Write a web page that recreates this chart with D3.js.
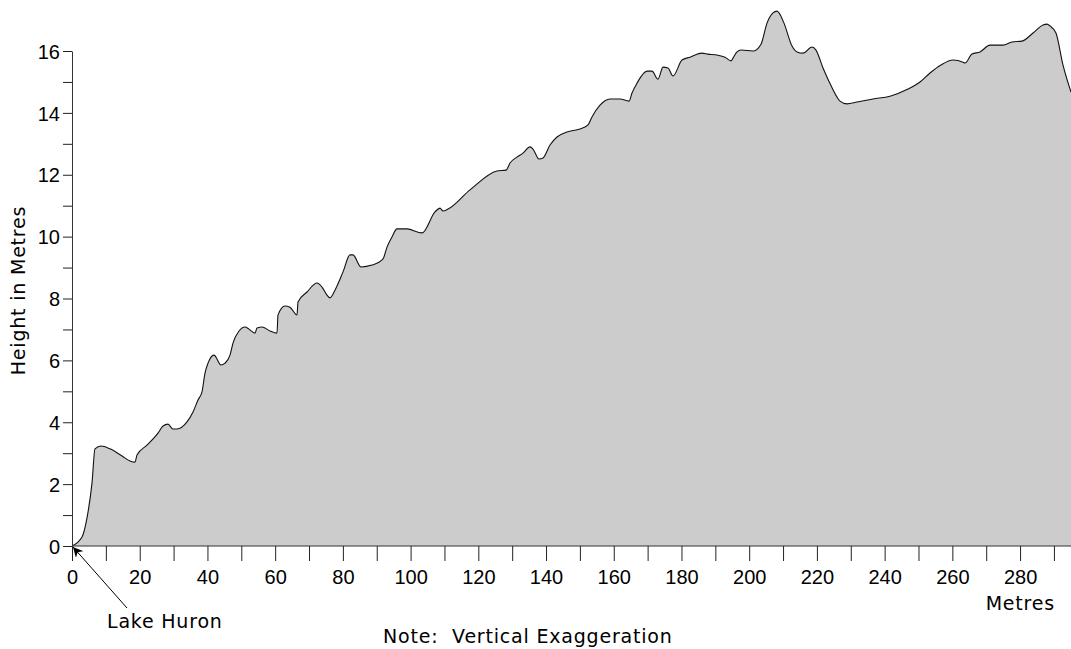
<!DOCTYPE html>
<html>
<head>
<meta charset="utf-8">
<script src="https://cdn.jsdelivr.net/npm/d3@7"></script>
<style>
  html, body { margin: 0; padding: 0; background: #fff; }
  svg text { font-family: "Liberation Sans", Arial, sans-serif; fill: #000; }
  svg text.label { font-family: "DejaVu Sans", sans-serif; letter-spacing: 0.8px; }
</style>
</head>
<body>
<svg id="chart" width="1071" height="649"></svg>
<script>
// Shoreline profile: distance inland (m) and height above lake level (m)
const distance = [
  0, 2.95, 4.43, 5.91, 6.79, 8.56, 11.22, 14.77, 17.13, 18.61, 19.20, 22.15, 25.40, 26.88,
  28.35, 29.83, 31.01, 33.96, 35.74, 37.21, 38.39, 39.28, 40.17, 41.94, 44.00, 45.19, 46.66,
  47.55, 49.32, 51.09, 52.27, 54.05, 54.64, 56.11, 58.48, 60.54, 60.84, 62.91, 64.38, 66.45,
  66.75, 69.40, 72.36, 73.83, 75.31, 76.20, 77.67, 80.04, 82.10, 82.99, 85.35, 88.60, 91.85,
  93.03, 94.51, 95.98, 98.94, 103.37, 107.21, 108.68, 109.57, 111.05, 117.54, 125.52, 128.18,
  129.36, 131.42, 133.20, 135.26, 136.15, 137.92, 139.10, 141.17, 143.24, 146.19, 150.03,
  152.39, 153.57, 155.94, 158.89, 161.84, 164.50, 165.39, 166.86, 169.82, 171.29, 173.07,
  174.54, 176.02, 177.50, 180.16, 182.52, 186.06, 187.83, 190.49, 192.85, 194.63, 195.22,
  196.40, 197.58, 201.12, 203.49, 205.26, 207.03, 208.21, 208.80, 210.28, 212.64, 214.12,
  215.89, 218.55, 219.73, 221.80, 223.27, 225.93, 226.82, 228.88, 231.84, 236.56, 241.58,
  246.90, 250.44, 253.40, 256.64, 260.19, 263.14, 263.73, 265.80, 268.16, 271.12, 274.96,
  277.61, 280.57, 283.81, 286.77, 287.95, 288.83, 290.60, 292.67, 295.04
];
const height = [
  0, 0.29, 0.91, 2.04, 3.14, 3.23, 3.14, 2.91, 2.75, 2.71, 2.94, 3.26, 3.65, 3.88,
  3.94, 3.78, 3.78, 4.01, 4.33, 4.72, 4.98, 5.59, 5.91, 6.17, 5.85, 5.91, 6.17,
  6.56, 6.95, 7.08, 7.01, 6.88, 7.05, 7.08, 6.95, 6.88, 7.47, 7.76, 7.72, 7.47,
  7.89, 8.21, 8.50, 8.37, 8.11, 8.02, 8.27, 8.86, 9.41, 9.41, 9.02, 9.08, 9.28,
  9.66, 9.99, 10.25, 10.25, 10.12, 10.80, 10.92, 10.83, 10.89, 11.51, 12.12, 12.15,
  12.38, 12.57, 12.70, 12.90, 12.83, 12.51, 12.54, 12.96, 13.22, 13.38, 13.48,
  13.61, 13.87, 14.25, 14.45, 14.45, 14.38, 14.64, 14.96, 15.35, 15.35, 15.09,
  15.48, 15.45, 15.19, 15.71, 15.80, 15.93, 15.90, 15.87, 15.80, 15.68, 15.77,
  15.97, 16.03, 16.00, 16.22, 16.90, 17.23, 17.29, 17.23, 16.90, 16.16, 15.97,
  15.93, 16.13, 16.03, 15.45, 15.09, 14.51, 14.38, 14.29, 14.35, 14.45, 14.54,
  14.77, 15.00, 15.29, 15.55, 15.71, 15.64, 15.61, 15.90, 15.97, 16.19, 16.19,
  16.29, 16.32, 16.58, 16.84, 16.87, 16.81, 16.58, 15.55, 14.67
];
const xTicks = d3.range(0, 300, 10);          // tick every 10 m
const xTickLabels = d3.range(0, 300, 20);     // labelled every 20 m
const yTicks = d3.range(0, 17, 1);            // tick every metre
const yTickLabels = d3.range(0, 17, 2);       // labelled every 2 m

const svg = d3.select("#chart");
const plotLeft = 72, plotBottom = 546, plotRight = 1071, plotTop = 51;

const x = d3.scaleLinear().domain([0, 295.04]).range([plotLeft, plotRight]);
const y = d3.scaleLinear().domain([0, 16]).range([plotBottom, plotTop]);

const pts = distance.map((d, i) => ({ d, h: height[i] }));

// filled profile
svg.append("path")
  .datum(pts)
  .attr("fill", "#cccccc")
  .attr("d", d3.area().x(p => x(p.d)).y0(y(0)).y1(p => y(p.h)).curve(d3.curveMonotoneX));

svg.append("path")
  .datum(pts)
  .attr("fill", "none")
  .attr("stroke", "#111")
  .attr("stroke-width", 1.1)
  .attr("d", d3.line().x(p => x(p.d)).y(p => y(p.h)).curve(d3.curveMonotoneX));

// x axis
const xAxis = d3.axisBottom(x)
  .tickValues(xTicks)
  .tickSize(15)
  .tickSizeOuter(0)
  .tickFormat(v => xTickLabels.includes(v) ? v : "");
const gx = svg.append("g").attr("transform", `translate(0,${plotBottom})`).call(xAxis);
gx.select(".domain").attr("stroke", "#333").attr("d", `M${plotLeft},0H${plotRight}`);
gx.selectAll(".tick line").attr("stroke", "#222");
gx.selectAll(".tick text").attr("dy", 0).attr("y", 38)
  .style("font-size", "20px").style("font-family", "'Liberation Sans', Arial, sans-serif");

// y axis
const yAxis = d3.axisLeft(y)
  .tickValues(yTicks)
  .tickSize(9)
  .tickSizeOuter(0)
  .tickFormat(v => yTickLabels.includes(v) ? v : "");
const gy = svg.append("g").attr("transform", `translate(${plotLeft},0)`).call(yAxis);
gy.select(".domain").attr("stroke", "#333");
gy.selectAll(".tick line").attr("stroke", "#222");
gy.selectAll(".tick text").attr("x", -12).attr("dy", "0.36em")
  .style("font-size", "20px").style("font-family", "'Liberation Sans', Arial, sans-serif");

// axis titles and notes
svg.append("text").attr("class", "label")
  .attr("transform", `translate(25,${(205 + 376) / 2}) rotate(-90)`)
  .attr("text-anchor", "middle")
  .style("font-size", "19px")
  .text("Height in Metres");

svg.append("text").attr("class", "label")
  .attr("x", 1055).attr("y", 610)
  .attr("text-anchor", "end")
  .style("font-size", "19px")
  .text("Metres");

svg.append("text").attr("class", "label")
  .attr("x", 107).attr("y", 628)
  .style("font-size", "19px")
  .text("Lake Huron");

svg.append("text").attr("class", "label")
  .attr("x", 383).attr("y", 643)
  .style("font-size", "19px")
  .attr("xml:space", "preserve")
  .style("white-space", "pre")
  .text("Note:  Vertical Exaggeration");

// pointer from the label to the shoreline
const defs = svg.append("defs");
defs.append("marker")
  .attr("id", "arrow")
  .attr("viewBox", "0 0 10 10")
  .attr("refX", 10).attr("refY", 5)
  .attr("markerWidth", 10).attr("markerHeight", 10)
  .attr("markerUnits", "userSpaceOnUse")
  .attr("orient", "auto")
  .append("path").attr("d", "M0,0L10,5L0,10L3,5Z").attr("fill", "#000");

svg.append("line")
  .attr("x1", 127).attr("y1", 608)
  .attr("x2", x(0) + 1).attr("y2", y(0) + 1)
  .attr("stroke", "#000").attr("stroke-width", 1)
  .attr("marker-end", "url(#arrow)");
</script>
</body>
</html>
